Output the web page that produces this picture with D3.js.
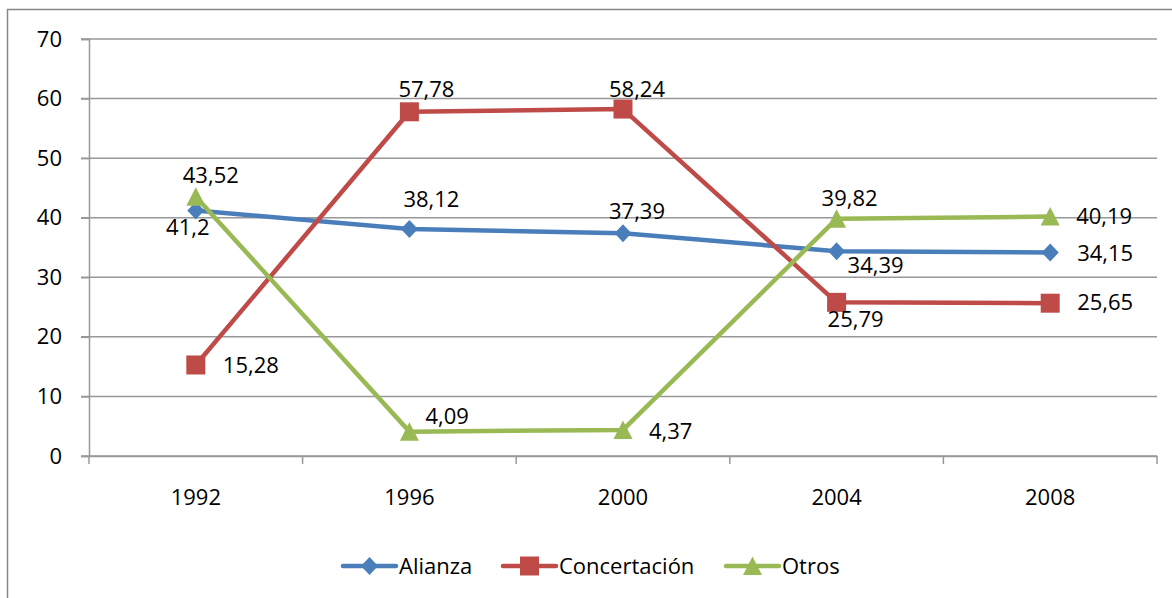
<!DOCTYPE html>
<html><head><meta charset="utf-8">
<script src="https://cdn.jsdelivr.net/npm/d3@7"></script>
<style>body{margin:0;background:#fff}svg{display:block}text{font-family:"Open Sans",sans-serif;fill:#000}</style>
</head><body>
<svg id="c" width="1172" height="598"></svg>
<script>
const years = ["1992","1996","2000","2004","2008"];
const alianza = [41.2, 38.12, 37.39, 34.39, 34.15];
const concertacion = [15.28, 57.78, 58.24, 25.79, 25.65];
const otros = [43.52, 4.09, 4.37, 39.82, 40.19];
const yTicks = [0,10,20,30,40,50,60,70];
const seriesNames = ["Alianza","Concertación","Otros"];
const colors = ["#4a7ebb","#be4b48","#98b954"];
const symbols = ["diamond","square","triangle"];
// label placement (anchor, dx, dy from the point to the text baseline)
const labelOffsets = [
  [["middle",-8,24],["middle",22,-22],["middle",14,-14],["start",11,22],["start",27,8]],
  [["start",27,8],["middle",17,-15],["middle",14,-12],["middle",19,25],["start",27,7]],
  [["middle",15,-14],["start",16,-8],["start",26,9],["middle",13,-13],["start",26,7]]
];
const series = [alianza, concertacion, otros].map((v,i)=>({name:seriesNames[i], values:v, color:colors[i], sym:symbols[i], offs:labelOffsets[i]}));
const svg = d3.select("#c");
const fmt = v => String(v).replace(".", ",");
const FS = "22px";
// frame
svg.append("rect").attr("x",7.5).attr("y",9.5).attr("width",1200).attr("height",700)
  .attr("fill","none").attr("stroke","#868686").attr("stroke-width",1.5);
const L=89, R=1157, T=39, B=456;
const x = d3.scaleBand().domain(years).range([L,R]);
const y = d3.scaleLinear().domain([0,70]).range([B,T]);
// gridlines
svg.append("g").selectAll("line").data(yTicks).join("line")
  .attr("x1",81).attr("x2",R).attr("y1",d=>y(d)).attr("y2",d=>y(d))
  .attr("stroke","#989898").attr("stroke-width",1.5);
// y axis
const ya = svg.append("g").attr("transform",`translate(${L},0)`)
  .call(d3.axisLeft(y).tickValues(yTicks).tickSize(8).tickPadding(19).tickFormat(d=>d));
ya.select(".domain").attr("stroke","#989898").attr("stroke-width",1.5);
ya.selectAll(".tick line").attr("stroke","#989898").attr("stroke-width",1.5);
ya.selectAll("text").style("font-size",FS).attr("fill","#000");
// x axis
const xa = svg.append("g").attr("transform",`translate(0,${B})`)
  .call(d3.axisBottom(x).tickSize(0).tickPadding(33));
xa.select(".domain").attr("stroke","#989898").attr("stroke-width",1.5);
xa.selectAll("text").style("font-size",FS).attr("fill","#000");
const edges = years.map(d=>x(d)).concat([R]);
xa.selectAll(".edge").data(edges).join("line").attr("class","edge")
  .attr("x1",d=>d).attr("x2",d=>d).attr("y1",0).attr("y2",8)
  .attr("stroke","#989898").attr("stroke-width",1.5);
const cx = d => x(d)+x.bandwidth()/2;
const symPath = {
  diamond: "M0,-9L8.5,0L0,9L-8.5,0Z",
  square: "M-9.5,-9.5H9.5V9.5H-9.5Z",
  triangle: "M0,-9.5L9.5,9L-9.5,9Z"
};
const line = d3.line().x((d,i)=>cx(years[i])).y(d=>y(d));
series.forEach(s=>{
  svg.append("path").datum(s.values).attr("d",line).attr("fill","none")
    .attr("stroke",s.color).attr("stroke-width",4.5).attr("stroke-linejoin","round");
  svg.append("g").selectAll("path").data(s.values).join("path")
    .attr("transform",(d,i)=>`translate(${cx(years[i])},${y(d)})`)
    .attr("d",symPath[s.sym]).attr("fill",s.color);
});
series.forEach(s=>{
  svg.append("g").selectAll("text").data(s.values).join("text")
    .text(d=>fmt(d)).style("font-size",FS)
    .attr("x",(d,i)=>cx(years[i])+s.offs[i][1])
    .attr("y",(d,i)=>y(d)+s.offs[i][2])
    .attr("text-anchor",(d,i)=>s.offs[i][0]);
});
// legend
const legendX = [343,503,726];
series.forEach((s,i)=>{
  const g = svg.append("g").attr("transform",`translate(${legendX[i]},566)`);
  g.append("line").attr("x1",0).attr("x2",53).attr("stroke",s.color).attr("stroke-width",4.5).attr("stroke-linecap","round");
  g.append("path").attr("transform","translate(26.5,0)").attr("d",symPath[s.sym]).attr("fill",s.color);
  g.append("text").attr("x",56).attr("y",8).text(s.name).style("font-size",FS);
});
</script>
</body></html>
